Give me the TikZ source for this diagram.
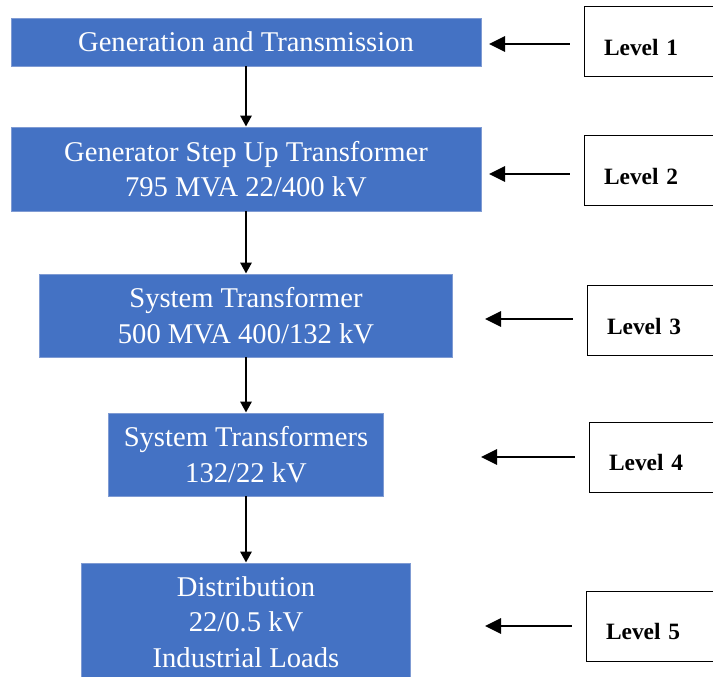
\documentclass[tikz,border=0pt]{standalone}
\usepackage{fontspec}
\setmainfont{Liberation Serif}
\usepackage{tikz}
\usetikzlibrary{arrows.meta}
\definecolor{boxblue}{HTML}{4472C4}
\definecolor{boxedge}{HTML}{7F9BD3}

\begin{document}
\begin{tikzpicture}[x=1pt,y=-1pt,
  stage/.style={rectangle,fill=boxblue,draw=boxedge,line width=0.8pt,text=white,align=center,inner sep=0pt,font=\fontsize{28.6}{35.5}\selectfont},
  levelbox/.style={rectangle,draw=black,line width=1pt,minimum width=140pt,minimum height=70pt,text width=100pt,inner xsep=20pt,inner ysep=0pt,align=left,text height=48.7pt,text depth=21.3pt,font=\fontsize{23.4}{28}\selectfont\bfseries},
  down/.style={-{Triangle[length=11pt,width=11pt]},line width=2.8pt},
  back/.style={-{Triangle[length=16pt,width=15pt]},line width=2.8pt,shorten <=14pt}]
\useasboundingbox (0,0) rectangle (713,677);
\clip (0,0) rectangle (713,677);

\node[stage,minimum width=470pt,minimum height=48pt] (gen) at (246,42) {Generation and Transmission};
\node[stage,minimum width=470pt,minimum height=84pt] (gsu) at (246,169) {Generator Step Up Transformer\\795 MVA 22/400 kV};
\node[stage,minimum width=413pt,minimum height=83pt] (sys) at (246,315.5) {System Transformer\\500 MVA 400/132 kV};
\node[stage,minimum width=275pt,minimum height=83pt] (syss) at (246,454.5) {System Transformers\\132/22 kV};
\node[stage,minimum width=329pt,minimum height=118pt] (dist) at (246,622) {Distribution\\22/0.5 kV\\Industrial Loads};

\node[levelbox] (lv1) at (654,42) {Level 1};
\node[levelbox] (lv2) at (654,170.5) {Level 2};
\node[levelbox] (lv3) at (657,320.5) {Level 3};
\node[levelbox] (lv4) at (659,457) {Level 4};
\node[levelbox] (lv5) at (656,626) {Level 5};

\coordinate (tip1) at (489,44);
\coordinate (tip2) at (489,174);
\coordinate (tip3) at (485,319);
\coordinate (tip4) at (481,457);
\coordinate (tip5) at (485,626);

\draw[down] (gen) -- (gsu);
\draw[down] (gsu) -- (sys);
\draw[down] (sys) -- (syss);
\draw[down] (syss) -- (dist);

\draw[back] (lv1.west |- tip1) -- (tip1);
\draw[back] (lv2.west |- tip2) -- (tip2);
\draw[back] (lv3.west |- tip3) -- (tip3);
\draw[back] (lv4.west |- tip4) -- (tip4);
\draw[back] (lv5.west |- tip5) -- (tip5);
\end{tikzpicture}
\end{document}
